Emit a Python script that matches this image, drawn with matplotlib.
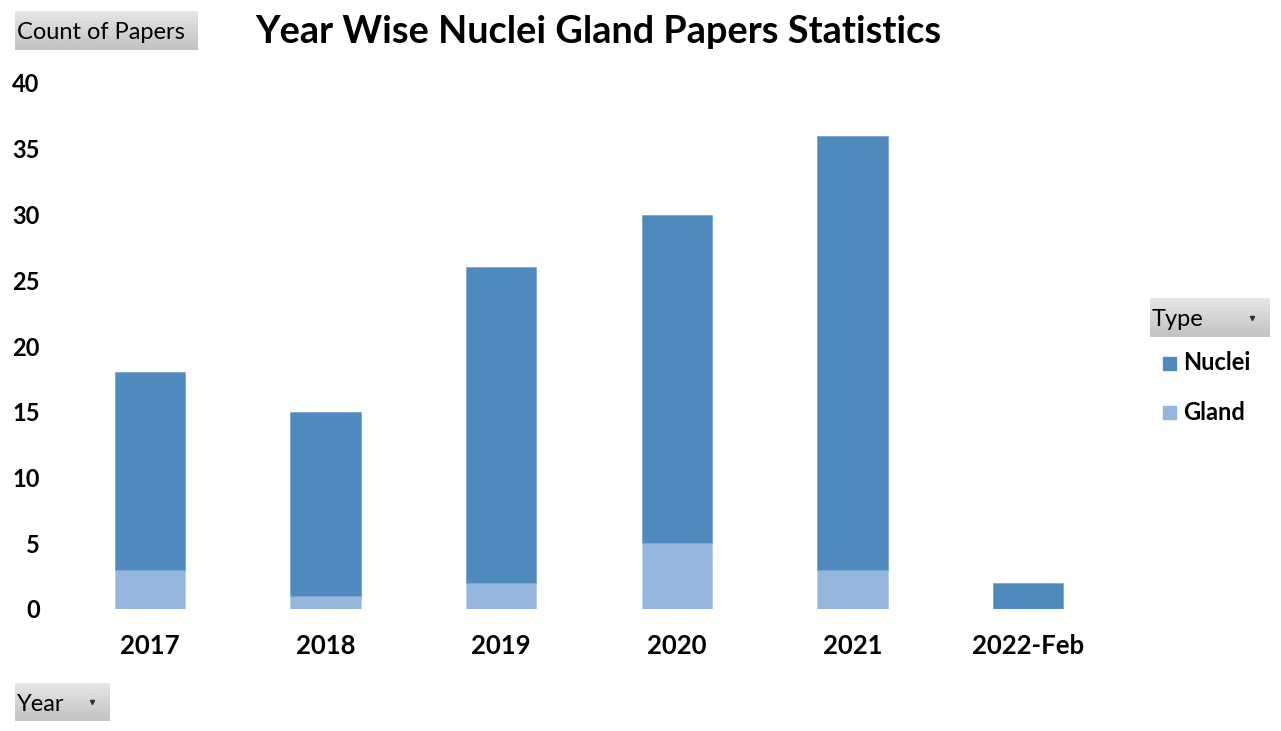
import matplotlib
matplotlib.use("Agg")
import matplotlib.pyplot as plt
import numpy as np

years = ["2017", "2018", "2019", "2020", "2021", "2022-Feb"]
gland = [3, 1, 2, 5, 3, 0]
nuclei = [15, 14, 24, 25, 33, 2]
yticks = [0, 5, 10, 15, 20, 25, 30, 35, 40]

c_nuclei = "#4F8ABE"
c_gland = "#95B7DE"
FONT = ["Lato", "DejaVu Sans"]

W, H = 1281, 731
fig = plt.figure(figsize=(W / 100, H / 100), dpi=100)

def px_ax(x0, y0, x1, y1, **kw):
    return fig.add_axes([x0 / W, 1 - y1 / H, (x1 - x0) / W, (y1 - y0) / H], **kw)

ax = px_ax(62, 83, 1116, 609)
x = np.arange(len(years))
ax.bar(x, gland, width=0.4, color=c_gland, edgecolor="#b8cde8", linewidth=0.6, label="Gland")
ax.bar(x, nuclei, width=0.4, bottom=gland, color=c_nuclei, edgecolor="#7aa6d4", linewidth=0.6, label="Nuclei")
ax.set_xlim(-0.5, len(years) - 0.5)
ax.set_ylim(0, 40)
ax.set_yticks(yticks)
ax.set_yticklabels([str(v) for v in yticks], fontsize=17, fontweight="bold", family=FONT)
ax.set_xticks(x)
ax.set_xticklabels(years, fontsize=18.5, fontweight="bold", family=FONT)
ax.tick_params(axis="both", length=0)
ax.tick_params(axis="y", pad=16)
ax.tick_params(axis="x", pad=18)
for s in ax.spines.values():
    s.set_visible(False)

fig.text(598 / W, 1 - 32 / H, "Year Wise Nuclei Gland Papers Statistics",
         ha="center", va="center", fontsize=27.3, fontweight="bold", family=FONT)

grad = np.linspace(0.90, 0.76, 50).reshape(-1, 1)

def button(x0, y0, x1, y1, label, arrow=False):
    b = px_ax(x0, y0, x1, y1)
    b.imshow(grad, cmap="gray", vmin=0, vmax=1, aspect="auto", extent=[0, 1, 0, 1])
    b.set_xlim(0, 1); b.set_ylim(0, 1)
    b.axis("off")
    b.text(2 / (x1 - x0), 0.44, label, ha="left", va="center", fontsize=17, family=FONT, color="black")
    if arrow:
        xa = 1 - 18 / (x1 - x0)
        b.plot([xa], [0.5], marker="v", markersize=3, color="#333333")

button(15, 11, 198, 50, "Count of Papers")
button(15, 683, 110, 721, "Year", arrow=True)
button(1150, 298, 1270, 337, "Type", arrow=True)

# legend
for label, col, yc in [("Nuclei", c_nuclei, 363), ("Gland", c_gland, 412)]:
    fig.patches.append(plt.Rectangle((1163 / W, 1 - (yc + 6.5) / H), 13 / W, 13 / H,
                                     transform=fig.transFigure, color=col))
    fig.text(1183 / W, 1 - yc / H, label, ha="left", va="center", fontsize=17,
             fontweight="bold", family=FONT)

fig.savefig("out.png", dpi=100, facecolor="white")
